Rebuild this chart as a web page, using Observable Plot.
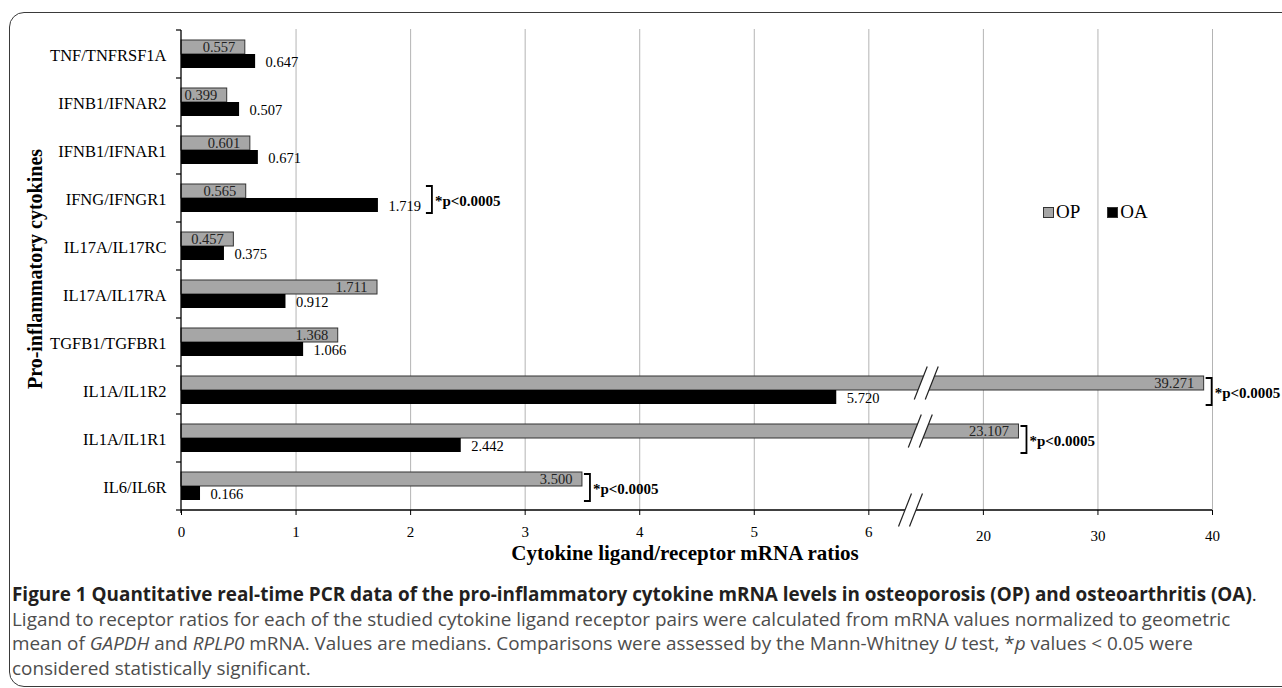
<!DOCTYPE html>
<html>
<head>
<meta charset="utf-8">
<script src="https://cdn.jsdelivr.net/npm/d3@7"></script>
<script src="https://cdn.jsdelivr.net/npm/@observablehq/plot@0.6"></script>
<style>
  html, body { margin:0; padding:0; background:#fff; width:1282px; height:688px; overflow:hidden; position:relative; }
  #frame { position:absolute; left:9px; top:12px; width:1330px; height:675px; border:1.6px solid #3a3a3a; border-radius:15px; box-sizing:border-box; }
  #chart { position:absolute; left:0; top:0; }
  .serif { font-family:"Liberation Serif","Times New Roman",serif; color:#000; }
  #xtitle { position:absolute; left:685px; top:541px; transform:translateX(-50%); font-weight:bold; font-size:21px; line-height:24px; white-space:nowrap; }
  #ytitle { position:absolute; left:35px; top:269px; transform:translate(-50%,-50%) rotate(-90deg); font-weight:bold; font-size:20px; line-height:24px; white-space:nowrap; }
  #legend { position:absolute; left:1043px; top:200px; height:24px; display:flex; align-items:center; font-size:19px; }
  #legend .item { display:flex; align-items:center; margin-right:27px; }
  #legend .sw { width:11px; height:11px; box-sizing:border-box; margin-right:2px; }
  #caption { position:absolute; left:12px; top:582px; font-family:"Open Sans",sans-serif; font-size:18.9px; line-height:24.5px; color:#4d4d4d; white-space:nowrap; }
  #caption .t { color:#231f20; font-weight:bold; }
</style>
</head>
<body>
<div id="frame"></div>
<div id="chart"></div>
<div id="ytitle" class="serif">Pro-inflammatory cytokines</div>
<div id="xtitle" class="serif">Cytokine ligand/receptor mRNA ratios</div>
<div id="legend" class="serif"></div>
<div id="caption">
  <div class="t">Figure 1 Quantitative real-time PCR data of the pro-inflammatory cytokine mRNA levels in osteoporosis (OP) and osteoarthritis (OA)<span style="font-weight:normal">.</span></div>
  <div>Ligand to receptor ratios for each of the studied cytokine ligand receptor pairs were calculated from mRNA values normalized to geometric</div>
  <div>mean of <i>GAPDH</i> and <i>RPLP0</i> mRNA. Values are medians. Comparisons were assessed by the Mann-Whitney <i>U</i> test, *<i>p</i> values &lt; 0.05 were</div>
  <div>considered statistically significant.</div>
</div>
<script>
// ---------- data ----------
const categories = ["TNF/TNFRSF1A", "IFNB1/IFNAR2", "IFNB1/IFNAR1", "IFNG/IFNGR1", "IL17A/IL17RC",
                    "IL17A/IL17RA", "TGFB1/TGFBR1", "IL1A/IL1R2", "IL1A/IL1R1", "IL6/IL6R"];
const seriesNames = ["OP", "OA"];
const opValues = [0.557, 0.399, 0.601, 0.565, 0.457, 1.711, 1.368, 39.271, 23.107, 3.500];
const oaValues = [0.647, 0.507, 0.671, 1.719, 0.375, 0.912, 1.066, 5.720, 2.442, 0.166];
const significantPairs = ["IFNG/IFNGR1", "IL1A/IL1R2", "IL1A/IL1R1", "IL6/IL6R"];
const significanceText = "*p<0.0005";
const lowTicks = [0, 1, 2, 3, 4, 5, 6];
const highTicks = [20, 30, 40];
const gridTicks = [1, 2, 3, 4, 5, 6, 20, 30, 40];

const seriesColors = {OP: "#a6a6a6", OA: "#000000"};

// ---------- broken axis (0–6.5 linear, 20–40 compressed, 10 units per step) ----------
const LOW_END = 6.5, HIGH_START = 20, HIGH_POS = 7, HIGH_UNIT = 10, BREAK_POS = 6.42;
function brk(v) {
  if (v <= LOW_END) return v;
  if (v >= HIGH_START) return HIGH_POS + (v - HIGH_START) / HIGH_UNIT;
  return LOW_END + (v - LOW_END) / (HIGH_START - LOW_END) * (HIGH_POS - LOW_END);
}
function unbrk(p) { return p >= HIGH_POS ? Math.round(HIGH_START + (p - HIGH_POS) * HIGH_UNIT) : p; }

const rows = categories.map((c, i) => ({category: c, op: opValues[i], oa: oaValues[i]}));

// ---------- custom decorations: axis lines, category ticks, breaks, brackets ----------
function decorations(index, scales, values, dims) {
  const sx = scales.x, sy = scales.y;
  const bw = typeof sy.bandwidth === "function" ? sy.bandwidth() : sy.bandwidth;
  const xLeft = sx(0), xRight = sx(brk(highTicks[highTicks.length - 1]));
  const yTop = sy(categories[0]), yBottom = sy(categories[categories.length - 1]) + bw;
  const g = d3.create("svg:g").attr("fill", "none").attr("stroke", "#000");
  // category boundary ticks
  for (let i = 0; i <= categories.length; i++) {
    const y = yTop + i * bw;
    g.append("line").attr("x1", xLeft - 5).attr("x2", xLeft).attr("y1", y).attr("y2", y).attr("stroke-width", 1.2);
  }
  g.append("line").attr("x1", xLeft).attr("x2", xLeft).attr("y1", yTop).attr("y2", yBottom + 3).attr("stroke-width", 1.3);
  g.append("line").attr("x1", xLeft).attr("x2", xRight).attr("y1", yBottom).attr("y2", yBottom).attr("stroke-width", 1.3);

  const refY = yBottom - bw;
  const breakX = y => sx(BREAK_POS) - 0.124 * (y - refY);
  function drawBreak(cy) {
    const cx = breakX(cy), h = 16.5, s = 6.5, gap = 11;
    const p = [[cx - gap / 2 - s, cy + h], [cx - gap / 2 + s, cy - h], [cx + gap / 2 + s, cy - h], [cx + gap / 2 - s, cy + h]];
    g.append("polygon").attr("points", p.map(q => q.join(",")).join(" ")).attr("fill", "#fff").attr("stroke", "none");
    g.append("line").attr("x1", p[0][0]).attr("y1", p[0][1]).attr("x2", p[1][0]).attr("y2", p[1][1]).attr("stroke-width", 1.2).attr("stroke", "#222");
    g.append("line").attr("x1", p[3][0]).attr("y1", p[3][1]).attr("x2", p[2][0]).attr("y2", p[2][1]).attr("stroke-width", 1.2).attr("stroke", "#222");
  }
  rows.forEach(r => {
    if (r.op > LOW_END) drawBreak(sy(r.category) + 17);
    if (r.oa > LOW_END) drawBreak(sy(r.category) + 31);
  });
  drawBreak(yBottom);

  significantPairs.forEach(c => {
    const i = categories.indexOf(c);
    const oaLarger = oaValues[i] > opValues[i];
    const end = sx(brk(Math.max(opValues[i], oaValues[i])));
    const stem = end + (oaLarger ? 54 : 8);
    const y0 = sy(c);
    g.append("path").attr("d", `M${stem - 6},${y0 + 12}H${stem}V${y0 + 39}H${stem - 6}`).attr("stroke-width", 1.8);
    g.append("text").attr("x", stem + 3).attr("y", y0 + bw / 2 + 3)
      .attr("text-anchor", "start").attr("dominant-baseline", "central")
      .attr("fill", "#000").attr("stroke", "none")
      .attr("font-weight", "bold").attr("font-size", 15).text(significanceText);
  });
  return g.node();
}

const chart = Plot.plot({
  width: 1282,
  height: 548,
  marginLeft: 181,
  marginRight: 70,
  marginTop: 29,
  marginBottom: 38,
  style: {fontFamily: "'Liberation Serif','Times New Roman',serif", fontSize: "15px", color: "#000", background: "transparent", overflow: "visible"},
  y: {domain: categories, padding: 0},
  marks: [
    Plot.ruleX(gridTicks, {x: brk, stroke: "#b4b4b4", strokeWidth: 1}),
    Plot.barX(rows, {y: "category", x: d => brk(d.op), fill: seriesColors.OP, stroke: "#333", strokeWidth: 1, insetTop: 10, insetBottom: 24}),
    Plot.barX(rows, {y: "category", x: d => brk(d.oa), fill: seriesColors.OA, insetTop: 24, insetBottom: 10}),
    decorations,
    Plot.text(rows, {y: "category", x: d => brk(d.op), text: d => d.op.toFixed(3), textAnchor: "end", dx: -10, dy: -7, fontSize: 14.5, fill: "#222"}),
    Plot.text(rows, {y: "category", x: d => brk(d.oa), text: d => d.oa.toFixed(3), textAnchor: "start", dx: 10, dy: 8, fontSize: 14.5, fill: "#000"}),
    Plot.axisY({tickSize: 0, tickPadding: 15, fontSize: 16.5, dy: 1, label: null}),
    Plot.axisX({ticks: lowTicks.map(brk), tickFormat: d => d, tickSize: 5, tickPadding: 11, fontSize: 15, label: null}),
    Plot.axisX({ticks: highTicks.map(brk), tickFormat: unbrk, tickSize: 5, tickPadding: 15, fontSize: 15, label: null})
  ]
});
document.getElementById("chart").appendChild(chart);

// legend
const legend = document.getElementById("legend");
seriesNames.forEach(name => {
  const item = document.createElement("div");
  item.className = "item";
  const sw = document.createElement("span");
  sw.className = "sw";
  sw.style.background = seriesColors[name];
  sw.style.border = "1px solid #333";
  const lab = document.createElement("span");
  lab.textContent = name;
  item.appendChild(sw); item.appendChild(lab);
  legend.appendChild(item);
});
</script>
</body>
</html>
